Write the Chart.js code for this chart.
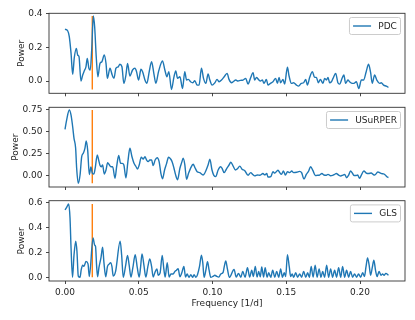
<!DOCTYPE html>
<html>
<head>
<meta charset="utf-8">
<script src="https://cdn.jsdelivr.net/npm/chart.js@4.4.0/dist/chart.umd.min.js"></script>
<style>
	body { margin: 0; background: #fff; }
	#wrap { position: relative; width: 415px; height: 320px; }
	canvas { position: absolute; left: 0; }
</style>
</head>
<body>
<div id="wrap">
	<canvas id="pdc" width="415" height="100" style="top:0px"></canvas>
	<canvas id="usr" width="415" height="95" style="top:100px"></canvas>
	<canvas id="gls" width="415" height="125" style="top:195px"></canvas>
</div>
<script>
// frequency of the marked peak [1/d]
const peakFreq = 0.0185;

const xTicks = [0, 0.05, 0.10, 0.15, 0.20];
const pdcTicks = [0, 0.2, 0.4];
const usrTicks = [0, 0.25, 0.5, 0.75];
const glsTicks = [0, 0.2, 0.4, 0.6];

const pdcFreq = [
	0, .0018, .0029, .0041, .0052, .0063, .0077, .0086, .0095, .0108,
	.0120, .0131, .0142, .0151, .0162, .0171, .0181, .0192, .0201, .0212,
	.0223, .0237, .0250, .0266, .0278, .0287, .0305, .0320, .0332, .0345,
	.0361, .0372, .0386, .0399, .0413, .0424, .0440, .0458, .0474, .0485,
	.0499, .0515, .0526, .0542, .0555, .0571, .0587, .0603, .0616, .0634,
	.0661, .0677, .0691, .0704, .0722, .0738, .0751, .0763, .0779, .0797,
	.0812, .0824, .0837, .0851, .0867, .0880, .0896, .0909, .0925, .0939,
	.0955, .0970, .0982, .0997, .1016, .1031, .1045, .1061, .1083, .1099,
	.1112, .1129, .1140, .1158, .1173, .1189, .1207, .1225, .1241, .1257,
	.1275, .1286, .1298, .1311, .1325, .1338, .1349, .1365, .1376, .1393,
	.1410, .1428, .1440, .1451, .1462, .1478, .1489, .1508, .1519, .1535,
	.1550, .1569, .1584, .1602, .1618, .1632, .1643, .1659, .1677, .1692,
	.1704, .1718, .1731, .1749, .1760, .1772, .1783, .1794, .1806, .1817,
	.1835, .1850, .1862, .1880, .1891, .1902, .1918, .1929, .1948, .1959,
	.1975, .1992, .2009, .2024, .2042, .2058, .2072, .2083, .2099, .2114,
	.2133, .2144, .2160, .2178, .2193
];
const pdcPower = [
	.309, .300, .265, .165, .040, .140, .195, .155, .145, .000,
	.036, .061, .085, .135, .076, .066, .185, .388, .324, .140,
	.026, .105, .115, .155, .105, .016, .076, .036, .016, .076,
	.085, .100, .085, -.014, .036, .105, .030, .066, .076, .056,
	.006, .070, .056, .006, -.014, .056, .115, .042, -.014, .056,
	.120, .066, .026, .056, -.050, .022, .061, .016, .026, -.044,
	.056, .006, .010, -.004, -.010, .002, -.024, -.024, .076, .016,
	-.014, .042, .006, -.024, -.010, .010, -.004, .006, .030, .046,
	.010, -.010, -.004, .006, .000, .004, .006, .016, -.018, .016,
	.050, .006, .022, .010, .000, .006, -.014, .010, -.024, -.014,
	-.004, .016, -.014, .022, -.010, .010, -.018, .082, .030, -.014,
	-.010, -.024, -.030, -.014, -.010, .010, -.024, .022, .056, .022,
	.022, -.010, .010, -.014, .016, .006, .022, -.010, -.004, .016,
	.046, -.010, -.018, .020, .036, -.014, .006, -.004, -.014, -.014,
	-.004, -.044, .006, .006, .056, .100, .050, -.014, .036, .006,
	-.014, -.010, -.024, -.030, -.038
];

const usrFreq = [
	0, .0011, .0029, .0041, .0052, .0061, .0072, .0079, .0090, .0102,
	.0113, .0124, .0135, .0144, .0154, .0165, .0176, .0185, .0196, .0205,
	.0219, .0228, .0237, .0246, .0255, .0266, .0278, .0289, .0300, .0311,
	.0323, .0339, .0350, .0364, .0377, .0388, .0399, .0413, .0426, .0440,
	.0454, .0467, .0481, .0492, .0503, .0517, .0530, .0542, .0553, .0564,
	.0575, .0587, .0598, .0611, .0625, .0638, .0650, .0661, .0675, .0688,
	.0702, .0716, .0726, .0738, .0749, .0763, .0779, .0792, .0801, .0812,
	.0824, .0837, .0851, .0869, .0880, .0896, .0914, .0936, .0970, .0982,
	.0997, .1009, .1022, .1038, .1054, .1065, .1078, .1097, .1112, .1124,
	.1140, .1156, .1169, .1185, .1200, .1219, .1241, .1259, .1273, .1286,
	.1305, .1320, .1342, .1354, .1368, .1376, .1395, .1410, .1422, .1444,
	.1456, .1467, .1481, .1494, .1508, .1523, .1537, .1550, .1571, .1591,
	.1604, .1620, .1636, .1652, .1665, .1681, .1697, .1713, .1726, .1742,
	.1755, .1772, .1783, .1801, .1814, .1828, .1839, .1855, .1869, .1884,
	.1896, .1909, .1923, .1936, .1948, .1959, .1970, .1984, .1997, .2009,
	.2026, .2042, .2058, .2076, .2089, .2099, .2121, .2133, .2146, .2160,
	.2171, .2185, .2193
];
const usrPower = [
	.523, .628, .742, .685, .552, .420, .310, .080, -.091, .003,
	.210, .250, .307, .390, .280, .008, .095, .025, .015, .085,
	.231, .174, .115, .098, .117, .015, .060, .143, .120, .098,
	.098, -.034, .098, .225, .136, .136, .117, -.030, .150, .307,
	.211, .140, .100, .072, .117, .205, .185, .211, .174, .155,
	.174, .174, .110, .174, .200, .155, .023, -.040, .060, .130,
	.205, .185, .155, .086, .010, -.050, .080, .150, .193, .125,
	-.045, .020, .079, .125, .090, .041, .030, .003, .117, .182,
	.057, .000, -.015, .060, .098, .080, .030, .080, .117, .148,
	.104, .060, .075, .104, .070, .053, .000, .030, .010, -.007,
	.003, .000, .020, .005, .020, -.020, -.015, .040, .025, .057,
	.030, .010, .049, .003, .040, .030, .049, .030, .035, .045,
	.030, -.042, .010, .049, .098, .053, -.003, .000, .003, .020,
	.003, .000, .011, -.005, .000, .011, .020, .003, -.008, .003,
	.011, -.027, .003, .049, .026, -.003, -.003, .003, -.034, .003,
	.049, .026, .020, .026, .010, .003, .037, .030, .020, .015,
	.003, -.019, -.025
];

const glsFreq = [
	0, .0011, .0025, .0034, .0041, .0051, .0061, .0073, .0081, .0090,
	.0102, .0110, .0120, .0129, .0142, .0156, .0165, .0190, .0201, .0207,
	.0214, .0221, .0230, .0244, .0255, .0264, .0276, .0288, .0301, .0309,
	.0318, .0327, .0343, .0374, .0384, .0395, .0410, .0424, .0435, .0447,
	.0460, .0476, .0490, .0503, .0512, .0522, .0535, .0548, .0562, .0575,
	.0587, .0598, .0609, .0623, .0632, .0645, .0659, .0670, .0679, .0693,
	.0706, .0718, .0733, .0745, .0756, .0767, .0779, .0792, .0806, .0817,
	.0828, .0841, .0853, .0865, .0875, .0887, .0898, .0912, .0925, .0934,
	.0943, .0955, .0966, .0977, .0988, .1002, .1016, .1029, .1043, .1056,
	.1072, .1080, .1090, .1101, .1114, .1146, .1161, .1176, .1192, .1205,
	.1221, .1237, .1252, .1266, .1277, .1290, .1302, .1313, .1324, .1334,
	.1346, .1357, .1370, .1381, .1395, .1408, .1422, .1435, .1449, .1462,
	.1474, .1486, .1496, .1508, .1520, .1530, .1540, .1550, .1564, .1577,
	.1591, .1604, .1618, .1632, .1645, .1657, .1669, .1682, .1696, .1709,
	.1723, .1735, .1747, .1760, .1774, .1787, .1801, .1814, .1828, .1841,
	.1855, .1869, .1882, .1896, .1909, .1923, .1936, .1950, .1963, .1977,
	.1990, .2004, .2018, .2030, .2041, .2051, .2062, .2072, .2083, .2094,
	.2105, .2116, .2129, .2142, .2153, .2163, .2175, .2193
];
const glsPower = [
	.540, .560, .587, .475, .236, .004, .180, .290, .210, .013,
	.004, .064, .100, .090, .130, .110, .010, .316, .260, .250,
	.100, .008, .080, .160, .242, .120, .008, .090, .110, .120,
	.090, .013, .050, .290, .180, .003, .090, .178, .100, .005,
	.080, .183, .080, .005, .080, .190, .100, .005, .090, .150,
	.090, .005, .040, .070, .020, .040, .178, .070, .005, .120,
	.005, .030, .030, .050, .060, .072, .008, .040, .090, .005,
	.030, .003, .025, .003, .025, .003, .024, .090, .180, .120,
	.003, .060, .128, .060, .003, .010, .020, .010, .005, .030,
	.043, .090, .133, .070, .003, .066, .005, .035, .004, .050,
	.004, .080, .005, .060, .010, .090, .005, .050, .008, .085,
	.006, .080, .004, .040, .003, .060, .004, .050, .004, .070,
	.004, .040, .010, .183, .090, .010, .030, .003, .040, .004,
	.030, .004, .050, .004, .040, .004, .090, .005, .100, .005,
	.070, .004, .050, .004, .100, .004, .070, .004, .060, .004,
	.080, .004, .090, .004, .060, .004, .050, .004, .030, .004,
	.030, .004, .040, .010, .090, .157, .100, .020, .080, .140,
	.060, .010, .050, .020, .030, .020, .035, .020
];

const blue = "#1f77b4";
const orange = "#ff7f0e";
const ink = "#262626";

Chart.defaults.font.family = "'DejaVu Sans', sans-serif";
Chart.defaults.font.size = 9;
Chart.defaults.color = ink;

// box around the axes and a matplotlib-like legend in the upper right
const framePlugin = {
	id: "frame",
	afterDraw(chart) {
		const { ctx, chartArea: a } = chart;
		ctx.save();
		ctx.strokeStyle = "#333";
		ctx.lineWidth = 0.9;
		ctx.strokeRect(a.left, a.top, a.right - a.left, a.bottom - a.top);

		const label = chart.data.datasets[0].label;
		ctx.font = "9px 'DejaVu Sans'";
		const tw = ctx.measureText(label).width;
		const w = 3.6 + 18 + 7.2 + tw + 3.6, h = 17;
		const x = a.right - 4.5 - w, y = a.top + 4.2;
		ctx.beginPath();
		ctx.roundRect(x, y, w, h, 2);
		ctx.fillStyle = "rgba(255,255,255,0.8)";
		ctx.fill();
		ctx.strokeStyle = "#cccccc";
		ctx.lineWidth = 1;
		ctx.stroke();
		ctx.strokeStyle = blue;
		ctx.lineWidth = 1.4;
		ctx.beginPath();
		ctx.moveTo(x + 3.6, y + h / 2);
		ctx.lineTo(x + 21.6, y + h / 2);
		ctx.stroke();
		ctx.fillStyle = ink;
		ctx.textAlign = "left";
		ctx.textBaseline = "middle";
		ctx.fillText(label, x + 28.8, y + h / 2 + 0.5);
		ctx.restore();
	}
};

function panel(id, name, freq, power, yRange, yTicks, digits, lay) {
	const lo = Math.min(...power), hi = Math.max(...power);
	new Chart(document.getElementById(id), {
		type: "line",
		data: {
			datasets: [{
				label: name,
				data: freq.map((f, i) => ({ x: f, y: power[i] })),
				borderColor: blue,
				borderWidth: 1.4,
				pointRadius: 0,
				cubicInterpolationMode: "monotone",
				fill: false
			}, {
				label: "",
				data: [{ x: peakFreq, y: lo }, { x: peakFreq, y: hi }],
				borderColor: orange,
				borderWidth: 1.4,
				pointRadius: 0,
				fill: false
			}]
		},
		options: {
			responsive: false,
			animation: false,
			layout: { padding: { top: lay.top, right: 10, bottom: 0, left: 0 } },
			plugins: { legend: { display: false }, tooltip: { enabled: false } },
			scales: {
				x: {
					type: "linear",
					min: -0.01085,
					max: 0.2305,
					afterBuildTicks: (ax) => { ax.ticks = xTicks.map(v => ({ value: v })); },
					afterFit: (ax) => {
						ax.height = lay.xh;
						ax.paddingLeft = 0;
						ax.paddingRight = 0;
					},
					grid: { drawOnChartArea: false, tickLength: 3, color: "#333", lineWidth: 0.9 },
					border: { display: false },
					ticks: {
						display: lay.xLabels,
						padding: 3,
						maxRotation: 0,
						autoSkip: false,
						callback: (v) => v.toFixed(2)
					},
					title: {
						display: lay.xLabels,
						text: "Frequency [1/d]",
						padding: { top: 0, bottom: 11.3 }
					}
				},
				y: {
					type: "linear",
					min: yRange[0],
					max: yRange[1],
					afterBuildTicks: (ax) => { ax.ticks = yTicks.map(v => ({ value: v })); },
					afterFit: (ax) => {
						ax.width = 49;
						// tick labels sit inside the area, no extra room needed
						ax.paddingTop = 0;
						ax.paddingBottom = 0;
					},
					grid: { drawOnChartArea: false, tickLength: 3, color: "#333", lineWidth: 0.9 },
					border: { display: false },
					ticks: { padding: 3.5, callback: (v) => v.toFixed(digits) },
					title: {
						display: true,
						text: "Power",
						padding: { top: lay.titlePad, bottom: 0 }
					}
				}
			}
		},
		plugins: [framePlugin]
	});
}

panel("pdc", "PDC", pdcFreq, pdcPower, [-0.073, 0.404], pdcTicks, 1,
	{ top: 13.3, xh: 6.7, xLabels: false, titlePad: 16.4 });
panel("usr", "USuRPER", usrFreq, usrPower, [-0.133, 0.773], usrTicks, 2,
	{ top: 7.3, xh: 8, xLabels: false, titlePad: 10.6 });
panel("gls", "GLS", glsFreq, glsPower, [-0.026, 0.613], glsTicks, 1,
	{ top: 5.7, xh: 39, xLabels: true, titlePad: 16.4 });
</script>
</body>
</html>
